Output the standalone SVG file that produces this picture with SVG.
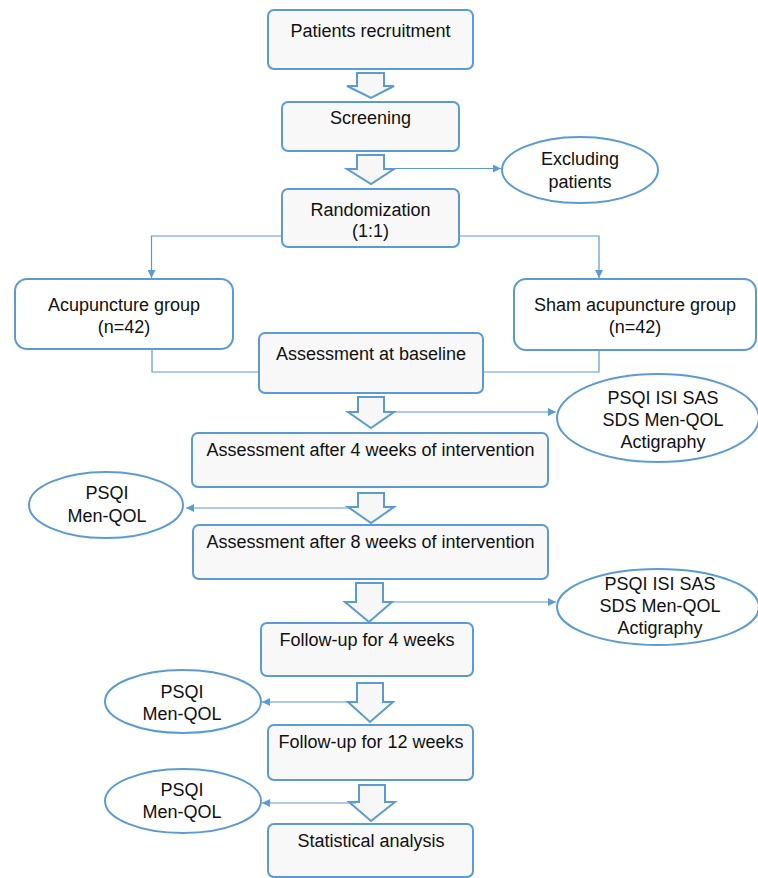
<svg xmlns="http://www.w3.org/2000/svg" width="758" height="878" viewBox="0 0 758 878">
<defs>
<style>
.box{fill:#f8f8f8;stroke:#5b9bd5;stroke-width:2}
.grp{fill:#ffffff;stroke:#5b9bd5;stroke-width:2}
.ell{fill:#ffffff;stroke:#5b9bd5;stroke-width:2}
.blk{fill:#f7f7f7;stroke:#5b9bd5;stroke-width:2;stroke-linejoin:miter}
.ln{fill:none;stroke:#5b9bd5;stroke-width:1.2}
text{font-family:"Liberation Sans",Arial,sans-serif;font-size:18px;fill:#111;text-anchor:middle}
</style>
<marker id="ah" viewBox="0 0 10 10" refX="10" refY="5" markerWidth="9" markerHeight="8" markerUnits="userSpaceOnUse" orient="auto">
<path d="M0,0 L10,5 L0,10 z" fill="#5b9bd5"/>
</marker>
</defs>

<g id="connectors">
<path class="blk" d="M357,73 H384 V86 H394 L371,98 L347,86 H357 Z"/>
<path class="blk" d="M357,155 H384 V169 H394 L371,184 L347,169 H357 Z"/>
<path class="blk" d="M358,397 H384 V412 H394 L371,428 L348,412 H358 Z"/>
<path class="blk" d="M358,493 H384 V507 H394 L371,523 L348,507 H358 Z"/>
<path class="blk" d="M356,583 H383 V602 H392 L369,622 L345,602 H356 Z"/>
<path class="blk" d="M357,683 H383 V702 H393 L370,722 L348,702 H357 Z"/>
<path class="blk" d="M359,785 H385 V802 H395 L371,821 L349,802 H359 Z"/>
<path class="ln" d="M385,168.5 H501" marker-end="url(#ah)"/>
<path class="ln" d="M282,236 H151.5 V278" marker-end="url(#ah)"/>
<path class="ln" d="M459,236 H599 V278" marker-end="url(#ah)"/>
<path class="ln" d="M152,349 V372 H259"/>
<path class="ln" d="M599,350 V372 H483"/>
<path class="ln" d="M386,412 H556" marker-end="url(#ah)"/>
<path class="ln" d="M352,508 H186" marker-end="url(#ah)"/>
<path class="ln" d="M392,602 H556" marker-end="url(#ah)"/>
<path class="ln" d="M356,702 H262" marker-end="url(#ah)"/>
<path class="ln" d="M356,803 H262" marker-end="url(#ah)"/>
</g>

<g id="recruitment">
<rect class="box" x="268" y="10" width="205" height="59" rx="6"/>
<text x="370.5" y="37">Patients recruitment</text>
</g>
<g id="screening">
<rect class="box" x="282" y="102" width="177" height="49" rx="6"/>
<text x="370.5" y="124">Screening</text>
</g>
<g id="excluding">
<ellipse class="ell" cx="580" cy="170" rx="78" ry="33"/>
<text x="580" y="165">Excluding</text>
<text x="580" y="188">patients</text>
</g>
<g id="randomization">
<rect class="box" x="282" y="189" width="177" height="58" rx="6"/>
<text x="370.5" y="216">Randomization</text>
<text x="370.5" y="237">(1:1)</text>
</g>
<g id="acupuncture">
<rect class="grp" x="15" y="279" width="218" height="70" rx="12"/>
<text x="124" y="311">Acupuncture group</text>
<text x="124" y="333">(n=42)</text>
</g>
<g id="sham">
<rect class="grp" x="514" y="279" width="242" height="71" rx="12"/>
<text x="635" y="311">Sham acupuncture group</text>
<text x="635" y="333">(n=42)</text>
</g>
<g id="baseline">
<rect class="box" x="259" y="333" width="224" height="60" rx="6"/>
<text x="371" y="360">Assessment at baseline</text>
</g>
<g id="measures1">
<ellipse class="ell" cx="658" cy="418" rx="101" ry="44"/>
<text x="663" y="404">PSQI ISI SAS</text>
<text x="663" y="426">SDS Men-QOL</text>
<text x="663" y="448">Actigraphy</text>
</g>
<g id="week4">
<rect class="box" x="192" y="433" width="356" height="54" rx="6"/>
<text x="370.5" y="456">Assessment after 4 weeks of intervention</text>
</g>
<g id="measures2">
<ellipse class="ell" cx="106" cy="505" rx="77" ry="33"/>
<text x="107" y="499">PSQI</text>
<text x="107" y="522">Men-QOL</text>
</g>
<g id="week8">
<rect class="box" x="193" y="525" width="355" height="54" rx="6"/>
<text x="370.5" y="548">Assessment after 8 weeks of intervention</text>
</g>
<g id="measures3">
<ellipse class="ell" cx="658" cy="607" rx="101" ry="38"/>
<text x="660" y="590">PSQI ISI SAS</text>
<text x="660" y="612">SDS Men-QOL</text>
<text x="660" y="634">Actigraphy</text>
</g>
<g id="followup4">
<rect class="box" x="261" y="623" width="212" height="53" rx="6"/>
<text x="367" y="646">Follow-up for 4 weeks</text>
</g>
<g id="measures4">
<ellipse class="ell" cx="183" cy="701.5" rx="78" ry="31.5"/>
<text x="182" y="698">PSQI</text>
<text x="182" y="720">Men-QOL</text>
</g>
<g id="followup12">
<rect class="box" x="268" y="725" width="205" height="55" rx="6"/>
<text x="371" y="748">Follow-up for 12 weeks</text>
</g>
<g id="measures5">
<ellipse class="ell" cx="183" cy="801" rx="78" ry="32"/>
<text x="182" y="796">PSQI</text>
<text x="182" y="818">Men-QOL</text>
</g>
<g id="statistics">
<rect class="box" x="268" y="824" width="205" height="53" rx="6"/>
<text x="371" y="847">Statistical analysis</text>
</g>
</svg>
